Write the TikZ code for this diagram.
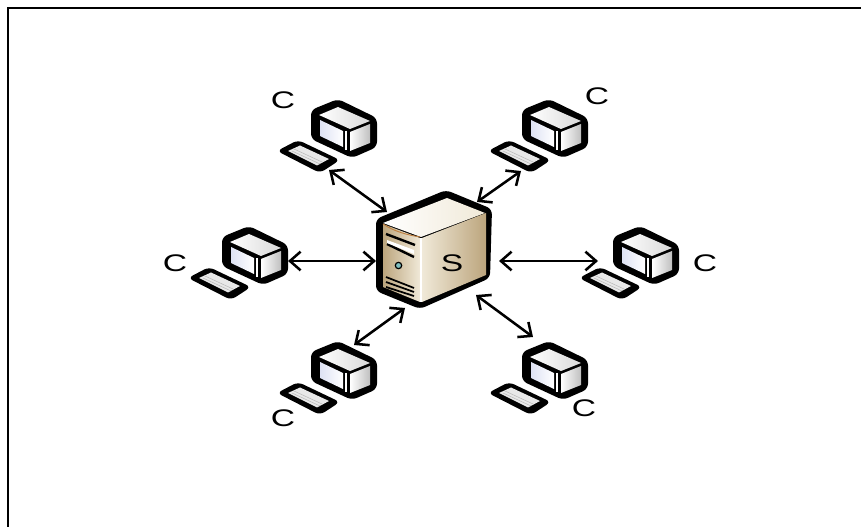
\documentclass[tikz,border=0pt]{standalone}
\usepackage{fontspec}
\setmainfont{Liberation Sans}
\usetikzlibrary{arrows.meta}
\definecolor{beigelight}{RGB}{240,233,216}
\definecolor{beigemid}{RGB}{226,214,190}
\definecolor{beigedark}{RGB}{188,165,125}
\definecolor{screenblue}{RGB}{222,226,244}
\tikzset{
  link/.style={{Straight Barb[length=8pt,width=14pt,line width=1.9pt]}-{Straight Barb[length=8pt,width=14pt,line width=1.9pt]}, line width=1.9pt},
  tag/.style={font=\fontsize{18}{18}\selectfont, xscale=1.4, inner sep=0pt},
  client/.pic={
    % Monitor
    \fill[black, rounded corners=4pt] (0,-2) -- (39,17) -- (39,46) -- (14,57) -- (-27,38) -- (-27,9) -- cycle;
    \shade[left color=white, right color=gray!30] (0,6) -- (32,20) -- (12,28) -- (-19,14) -- cycle;
    \shade[left color=white, right color=gray!50] (12,31) -- (32,23) -- (32,42) -- (12,50) -- cycle;
    \shade[left color=screenblue, right color=white] (-18,19) -- (5,30) -- (5,46) -- (-18,35) -- cycle;
    \draw[white, line width=1pt] (8,30) -- (8,49);
    % Keyboard
    \fill[black, rounded corners=4pt] (-61,50) -- (-40,39) -- (2,59) -- (-18,72) -- cycle;
    \fill[gray!18] (-50,50) -- (-38,44.5) -- (-9,58) -- (-21,64.5) -- cycle;
    \draw[gray!55, line width=0.4pt] (-44,48) -- (-16,61);
    \draw[gray!55, line width=0.4pt] (-46,50) -- (-18,63);
  }
}
\begin{document}
\begin{tikzpicture}[x=0.75pt, y=-0.75pt]
        \useasboundingbox (0,0) rectangle (861,527);
        % Frame
        \draw[line width=1.5pt] (8,527) -- (8,8) -- (861,8);

        % Clients
        \pic at (338,101) {client};
        \pic at (549,101) {client};
        \pic at (249,228) {client};
        \pic at (640,228) {client};
        \pic at (338,343) {client};
        \pic at (549,343) {client};

        % Server
        \fill[black, rounded corners=4pt] (446,190) -- (492,209) -- (490,278) -- (420,309) -- (376,291) -- (376,219) -- cycle;
        \shade[left color=white, right color=beigelight] (447,198) -- (485,213) -- (421,237) -- (383,223) -- cycle;
        \shade[left color=beigelight, right color=beigedark] (422,238) -- (486,213) -- (486,275) -- (422,302) -- cycle;
        \shade[left color=beigedark, right color=beigelight] (383,224) -- (420,238) -- (420,302) -- (383,287) -- cycle;
        \draw[brown, line width=0.7pt] (383,224) .. controls (395,232) and (408,235) .. (420,237);
        \draw[white, line width=0.8pt] (421,238) -- (421,302);
        \draw[black, line width=1.8pt] (386,234) -- (415,245);
        \draw[black, line width=1.8pt] (387,244) -- (414,257);
        \fill[white] (387,240) -- (414,250) -- (414,254) -- (387,243) -- cycle;
        \fill[teal!50, draw=black, line width=0.9pt] (398.5,265.5) circle (3.2);
        \draw[black, line width=1.3pt] (386,277) -- (414,288);
        \draw[black, line width=1.3pt] (386,282) -- (414,292);
        \draw[black, line width=1.3pt] (386,287) -- (414,296);

        % Labels
        \node (cone) [tag] at (283,100) {C};
        \node (ctwo) [tag] at (597,96) {C};
        \node (cthree) [tag] at (175,263) {C};
        \node (cfour) [tag] at (705,263) {C};
        \node (cfive) [tag] at (283,418) {C};
        \node (csix) [tag] at (584,408) {C};
        \node (server) [tag] at (452,263) {S};

        % Ends
        \coordinate (aone) at (329,170);
        \coordinate (bone) at (387,212);
        \coordinate (atwo) at (521,171);
        \coordinate (btwo) at (477,202);
        \coordinate (athree) at (288,261);
        \coordinate (bthree) at (376,261);
        \coordinate (afour) at (598,261);
        \coordinate (bfour) at (499,261);
        \coordinate (afive) at (354,345);
        \coordinate (bfive) at (405,308);
        \coordinate (asix) at (533,337);
        \coordinate (bsix) at (476,295);

        % Edges
        \draw[link] (aone) -- (bone);
        \draw[link] (atwo) -- (btwo);
        \draw[link] (athree) -- (bthree);
        \draw[link] (afour) -- (bfour);
        \draw[link] (afive) -- (bfive);
        \draw[link] (asix) -- (bsix);
    \end{tikzpicture}
\end{document}
